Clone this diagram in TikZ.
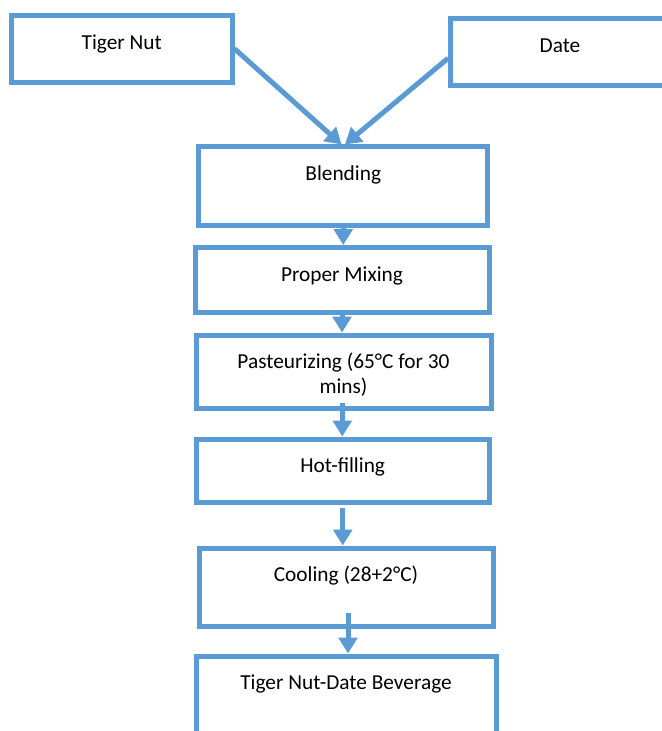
\documentclass[tikz,border=0pt]{standalone}
\usepackage{fontspec}
\setmainfont{Carlito}
\usetikzlibrary{arrows.meta}
\definecolor{boxblue}{HTML}{5B9BD5}
\begin{document}
\begin{tikzpicture}[x=0.75pt,y=-0.75pt,>={Triangle[width=14pt,length=12pt]},
  stage/.style={draw=boxblue,line width=3.75pt,inner sep=0pt,anchor=north,
    align=center,text height=25.4pt,font=\fontsize{16}{18.75}\selectfont},
  flow/.style={->,draw=boxblue,line width=3.75pt}]
\useasboundingbox (0,0) rectangle (661,731);
% the two ingredients
\node[stage,minimum width=165.4pt,text depth=24.5pt] (nut) at (121.75,13) {Tiger Nut};
\node[stage,minimum width=164.25pt,text depth=24.5pt] (date) at (560,16.5) {Date};
% process steps
\node[stage,minimum width=216.4pt,text depth=33.5pt] (blend) at (343.25,144.5) {Blending};
\node[stage,minimum width=220.5pt,text depth=23.35pt] (mix) at (342,245) {Proper Mixing};
% two lines: baseline is the last one
\node[stage,minimum width=221.25pt,text height=44.15pt,text depth=10.6pt] (past) at (343.5,332.5) {Pasteurizing (65°C for 30\\mins)};
\node[stage,minimum width=219.4pt,text depth=22.2pt] (hot) at (342.75,436.5) {Hot-filling};
\node[stage,minimum width=220.5pt,text depth=33.1pt] (cool) at (346,545.5) {Cooling (28+2°C)};
\node[stage,minimum width=225pt,text depth=34.6pt] (drink) at (346,653.5) {Tiger Nut-Date Beverage};
% arrows
\draw[flow] (nut.east) -- ([xshift=-1.3pt]blend.north);
\draw[flow] ([yshift=-4.5pt]date.west) -- ([xshift=1.3pt]blend.north);
\draw[flow] (blend.south) -- (blend.south |- mix.north);
\draw[flow] (mix.south) -- (mix.south |- past.north);
\draw[flow] ([xshift=-0.9pt,yshift=5.6pt]past.south) coordinate (p1) -- (p1 |- hot.north);
\draw[flow] ([yshift=-2.25pt]hot.south) coordinate (h1) -- (h1 |- cool.north);
\draw[flow] ([xshift=1.5pt,yshift=11.6pt]cool.south) coordinate (c1) -- (c1 |- drink.north);
\end{tikzpicture}
\end{document}
